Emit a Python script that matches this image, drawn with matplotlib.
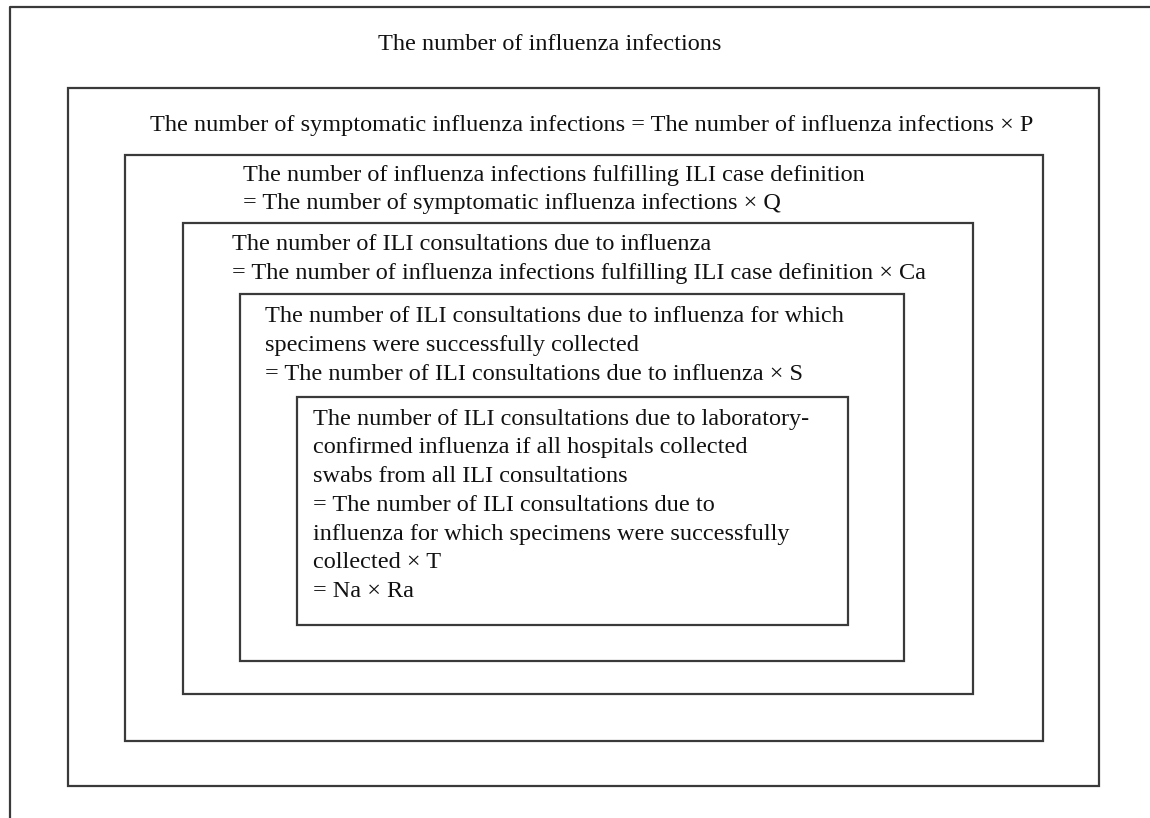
import matplotlib.pyplot as plt
from matplotlib.patches import Rectangle

W, H = 1150, 818

# nested boxes (left, top, right, bottom) in pixels
boxes = [
    (68, 88, 1099, 786),
    (125, 155, 1043, 741),
    (183, 223, 973, 694),
    (240, 294, 904, 661),
    (297, 397, 848, 625),
]

title = "The number of influenza infections"

# text blocks: (x, y of first line, lines)
blocks = [
    (150, 125, ["The number of symptomatic influenza infections = The number of influenza infections \u00d7 P"]),
    (243, 175, ["The number of influenza infections fulfilling ILI case definition",
                "= The number of symptomatic influenza infections \u00d7 Q"]),
    (232, 245, ["The number of ILI consultations due to influenza",
                "= The number of influenza infections fulfilling ILI case definition \u00d7 Ca"]),
    (265, 317, ["The number of ILI consultations due to influenza for which",
                "specimens were successfully collected",
                "= The number of ILI consultations due to influenza \u00d7 S"]),
    (313, 419, ["The number of ILI consultations due to laboratory-",
                "confirmed influenza if all hospitals collected",
                "swabs from all ILI consultations",
                "= The number of ILI consultations due to",
                "influenza for which specimens were successfully",
                "collected \u00d7 T",
                "= Na \u00d7 Ra"]),
]
line_gap = 28.8

plt.rcParams['font.family'] = ['Liberation Serif', 'DejaVu Serif']

fig = plt.figure(figsize=(W / 100, H / 100), dpi=100)
ax = fig.add_axes([0, 0, 1, 1])
ax.set_xlim(0, W)
ax.set_ylim(H, 0)
ax.axis('off')

edge = '#3a3a3a'
# partial outer frame (top and left edges only visible)
ax.plot([10, 10, W + 5], [H + 5, 7, 7], color=edge, lw=1.6)

for l, t, r, b in boxes:
    ax.add_patch(Rectangle((l, t), r - l, b - t, fill=False, edgecolor=edge, lw=1.6))

fs = 17.5
ax.text(550, 45, title, ha='center', va='center', fontsize=fs, color='#111111')
for x, y, lines in blocks:
    for i, s in enumerate(lines):
        ax.text(x, y + i * line_gap, s, ha='left', va='center', fontsize=fs, color='#111111')

fig.savefig('out.png', dpi=100)
